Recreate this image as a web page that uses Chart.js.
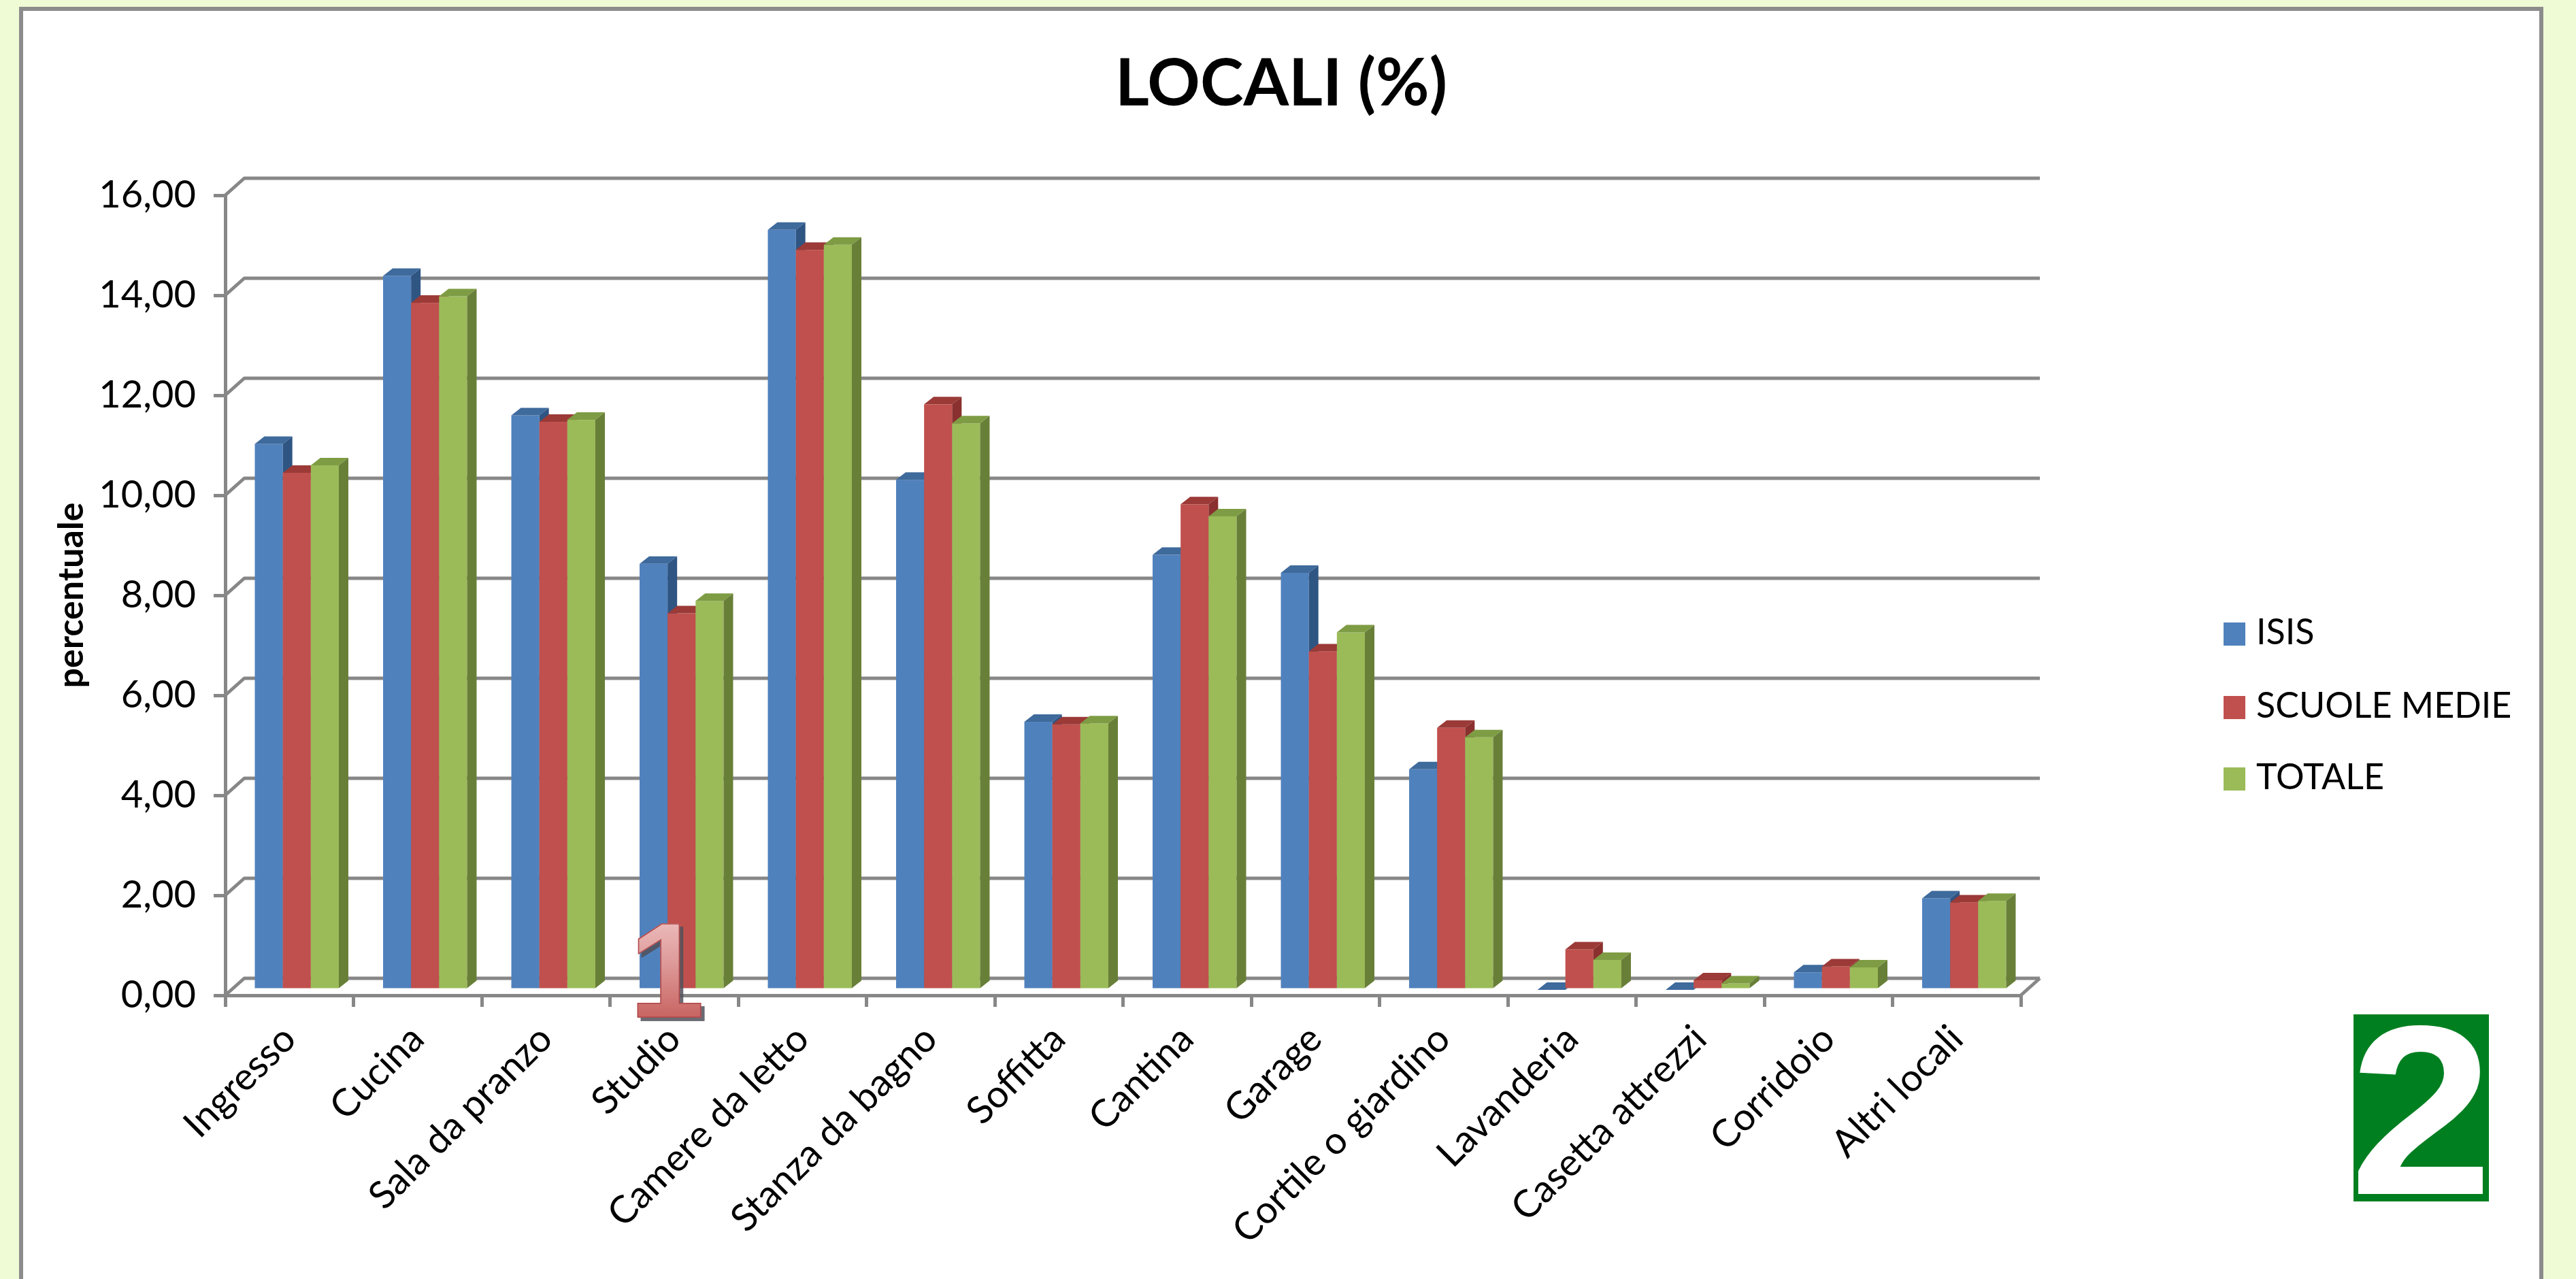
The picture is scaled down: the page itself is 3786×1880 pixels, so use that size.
<!DOCTYPE html>
<html lang="it">
<head>
    <meta charset="UTF-8">
    <title>LOCALI (%)</title>
    <script src="https://cdn.jsdelivr.net/npm/chart.js"></script>
    <style>
        html, body {
            margin: 0;
            width: 3786px;
            height: 1880px;
            overflow: hidden;
            background-color: #eefbd4;
            font-family: Lato, sans-serif;
        }
        .frame {
            position: absolute;
            left: 28px;
            top: 10px;
            width: 3698px;
            height: 1900px;
            background: #ffffff;
            border: 6px solid #8c8c8c;
        }
        .chart-box {
            position: absolute;
            left: 0;
            top: 0;
            width: 3698px;
            height: 1864px;
        }
        .legend {
            position: absolute;
            left: 3268px;
            top: 0;
        }
        .legend-item {
            position: absolute;
            left: 0;
            white-space: nowrap;
            font-size: 52px;
            line-height: 60px;
            color: #000;
        }
        .legend-item span.box {
            display: inline-block;
            width: 32px;
            height: 34px;
            margin-right: 16px;
            vertical-align: -2px;
        }
        .badge-one {
            position: absolute;
            left: 925px;
            top: 1328px;
            font-family: "Liberation Sans", Arial, sans-serif;
            font-weight: bold;
            font-size: 198px;
            line-height: 1;
            background: linear-gradient(#f2c8c8 0%, #dd9998 45%, #c0504d 100%);
            -webkit-background-clip: text;
            background-clip: text;
            color: transparent;
            -webkit-text-stroke: 1.5px #b0484a;
            filter: drop-shadow(5px 5px 0 rgba(80, 80, 90, 0.85));
        }
        .badge-two {
            position: absolute;
            left: 3459px;
            top: 1491px;
            width: 199px;
            height: 275px;
            background: #007f20;
        }
        .badge-two span {
            position: absolute;
            left: 0;
            width: 199px;
            top: -36px;
            text-align: center;
            font-family: "Liberation Sans", Arial, sans-serif;
            font-weight: bold;
            font-size: 355px;
            line-height: 1;
            color: #ffffff;
            transform: scaleX(1.07);
        }
    </style>
</head>
<body>
    <div class="frame">
        <div class="chart-box">
            <canvas id="locali-chart"></canvas>
        </div>
    </div>
    <div class="legend" id="legend"></div>
    <div class="badge-one">1</div>
    <div class="badge-two"><span>2</span></div>

    <script>
        // data
        const chartTitle = 'LOCALI (%)';
        const categories = ['Ingresso', 'Cucina', 'Sala da pranzo', 'Studio', 'Camere da letto',
            'Stanza da bagno', 'Soffitta', 'Cantina', 'Garage', 'Cortile o giardino',
            'Lavanderia', 'Casetta attrezzi', 'Corridoio', 'Altri locali'];
        const seriesNames = ['ISIS', 'SCUOLE MEDIE', 'TOTALE'];
        const isis = [10.92, 14.28, 11.49, 8.52, 15.20, 10.20, 5.36, 8.70, 8.34, 4.41, 0.00, 0.00, 0.35, 1.83];
        const scuoleMedie = [10.34, 13.74, 11.36, 7.53, 14.80, 11.71, 5.31, 9.71, 6.77, 5.24, 0.81, 0.19, 0.47, 1.75];
        const totale = [10.49, 13.87, 11.40, 7.78, 14.90, 11.33, 5.33, 9.47, 7.15, 5.05, 0.60, 0.13, 0.45, 1.78];
        const yMin = 0;
        const yMax = 16;
        const yStep = 2;

        // colours: front, top, side
        const faces = [
            ['#4f81bd', '#3e6a9c', '#2f5583'],
            ['#c0504d', '#9b3a37', '#8a302e'],
            ['#9bbb59', '#7e9c44', '#687f38']
        ];
        const gridColor = '#878787';
        const depth = { x: 28, y: -25 };      // back wall offset
        const barShift = { x: 11, y: -8 };    // bars sit a little behind the front edge
        const barDepth = { x: 14, y: -11 };

        // draws the back wall grid and the 3d bars, in place of the flat bars
        const box3d = {
            id: 'box3d',
            beforeDatasetsDraw(chart) {
                const { ctx, chartArea: a, scales: { y } } = chart;
                ctx.save();
                ctx.strokeStyle = gridColor;
                ctx.lineWidth = 5;
                ctx.lineJoin = 'round';
                y.ticks.forEach(t => {
                    const py = y.getPixelForValue(t.value);
                    ctx.beginPath();
                    ctx.moveTo(a.left, py);
                    ctx.lineTo(a.left + depth.x, py + depth.y);
                    ctx.lineTo(a.right + depth.x, py + depth.y);
                    ctx.stroke();
                });
                ctx.beginPath();
                ctx.moveTo(a.right, a.bottom);
                ctx.lineTo(a.right + depth.x, a.bottom + depth.y);
                ctx.stroke();

                for (let i = 0; i < categories.length; i++) {
                    chart.data.datasets.forEach((ds, d) => {
                        const el = chart.getDatasetMeta(d).data[i];
                        const x0 = el.x - el.width / 2 + barShift.x;
                        const x1 = el.x + el.width / 2 + barShift.x;
                        const top = el.y + barShift.y;
                        const bot = el.base + barShift.y;
                        ctx.fillStyle = faces[d][0];
                        ctx.fillRect(x0, top, x1 - x0, bot - top);
                        ctx.fillStyle = faces[d][1];
                        ctx.beginPath();
                        ctx.moveTo(x0, top);
                        ctx.lineTo(x1, top);
                        ctx.lineTo(x1 + barDepth.x, top + barDepth.y);
                        ctx.lineTo(x0 + barDepth.x, top + barDepth.y);
                        ctx.closePath();
                        ctx.fill();
                        ctx.fillStyle = faces[d][2];
                        ctx.beginPath();
                        ctx.moveTo(x1, top);
                        ctx.lineTo(x1 + barDepth.x, top + barDepth.y);
                        ctx.lineTo(x1 + barDepth.x, bot + barDepth.y);
                        ctx.lineTo(x1, bot);
                        ctx.closePath();
                        ctx.fill();
                    });
                }
                ctx.restore();
                return false;
            }
        };

        // title centred on the whole frame, not just on the plot + padding
        const pageTitle = {
            id: 'pageTitle',
            afterDraw(chart) {
                const c = chart.ctx;
                c.save();
                c.font = 'bold 96px Lato';
                c.fillStyle = '#000';
                c.textAlign = 'center';
                c.textBaseline = 'middle';
                c.fillText(chartTitle, chart.width / 2, 108);
                c.restore();
            }
        };

        const ctx = document.getElementById('locali-chart').getContext('2d');
        const chart = new Chart(ctx, {
            type: 'bar',
            data: {
                labels: categories,
                datasets: [
                    { label: seriesNames[0], data: isis, backgroundColor: faces[0][0] },
                    { label: seriesNames[1], data: scuoleMedie, backgroundColor: faces[1][0] },
                    { label: seriesNames[2], data: totale, backgroundColor: faces[2][0] }
                ]
            },
            options: {
                responsive: true,
                maintainAspectRatio: false,
                animation: false,
                layout: { padding: { left: 0, right: 762, top: 271, bottom: 0 } },
                datasets: {
                    bar: { categoryPercentage: 0.655, barPercentage: 1.0 }
                },
                plugins: {
                    legend: { display: false },
                    tooltip: { enabled: false },
                    title: { display: false }
                },
                scales: {
                    x: {
                        grid: { drawOnChartArea: false, color: gridColor, tickLength: 17, lineWidth: 5 },
                        border: { color: gridColor, width: 5 },
                        ticks: {
                            color: '#000',
                            font: { family: 'Lato', size: 56 },
                            maxRotation: 45,
                            minRotation: 45,
                            autoSkip: false,
                            padding: 14
                        },
                        afterFit(scale) { scale.height = 417; }
                    },
                    y: {
                        min: yMin,
                        max: yMax,
                        grid: { drawOnChartArea: false, color: gridColor, tickLength: 17, lineWidth: 5 },
                        border: { color: gridColor, width: 5 },
                        ticks: {
                            stepSize: yStep,
                            color: '#000',
                            font: { family: 'Lato', size: 56 },
                            padding: 26,
                            callback: v => v.toFixed(2).replace('.', ',')
                        },
                        title: {
                            display: true,
                            text: 'percentuale',
                            color: '#000',
                            font: { family: 'Lato', size: 52, weight: 'bold' },
                            padding: { top: 40, bottom: 0 }
                        },
                        afterFit(scale) { scale.width = 297; }
                    }
                }
            },
            plugins: [box3d, pageTitle]
        });

        // legend beside the chart
        const legend = document.getElementById('legend');
        const legendTops = [897, 1005, 1110];
        seriesNames.forEach((name, i) => {
            const item = document.createElement('div');
            item.className = 'legend-item';
            item.style.top = legendTops[i] + 'px';
            item.innerHTML = '<span class="box" style="background:' + faces[i][0] + '"></span>' + name;
            legend.appendChild(item);
        });
    </script>
</body>
</html>
